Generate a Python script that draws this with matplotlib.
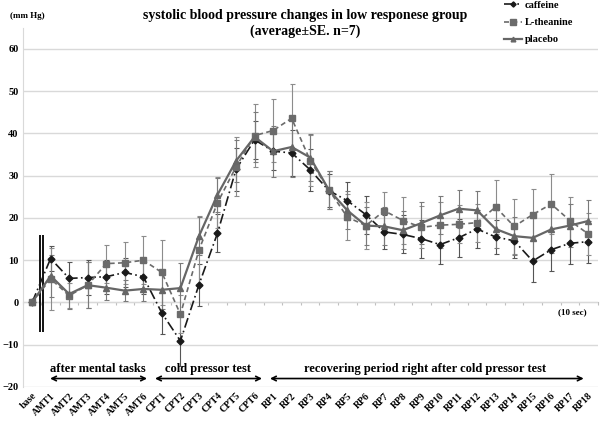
import numpy as np
import matplotlib.pyplot as plt

plt.rcParams['font.family'] = ['Liberation Serif', 'DejaVu Serif']
plt.rcParams['font.weight'] = 'bold'

categories = (['base'] + ['AMT%d' % i for i in range(1, 7)] +
              ['CPT%d' % i for i in range(1, 7)] +
              ['RP%d' % i for i in range(1, 19)])
series_names = ['caffeine', 'L-theanine', 'placebo']

caffeine = [0, 10.4, 5.7, 5.9, 6.1, 7.1, 6.1,
            -2.5, -9.1, 4.2, 16.4, 31.5, 38.5,
            35.8, 35.4, 31.4, 26.5, 24.1, 20.8, 16.7, 16.1, 15.1, 13.7,
            15.3, 17.4, 15.5, 14.6, 9.8, 12.5, 14.0, 14.4]
caffeine_se = [0, 3.0, 3.8, 4.2, 4.0, 3.5, 4.0,
               5.0, 6.0, 5.0, 4.5, 5.0, 4.5,
               4.5, 5.5, 5.0, 4.0, 4.5, 4.5, 4.0, 4.5, 4.5, 4.5,
               4.5, 4.5, 4.0, 4.0, 5.0, 5.0, 5.0, 5.0]

ltheanine = [0, 5.6, 1.6, 4.1, 9.2, 9.4, 10.0,
             7.1, -2.8, 12.4, 23.6, 32.1, 39.5,
             40.7, 43.6, 33.6, 26.7, 20.2, 18.2, 21.7, 19.4, 17.8, 18.3,
             18.5, 18.9, 22.6, 18.0, 20.8, 23.3, 19.4, 16.2]
ltheanine_se = [0, 7.4, 3.0, 5.5, 4.5, 5.0, 5.7,
                7.6, 4.5, 8.0, 6.0, 7.0, 7.5,
                7.5, 8.0, 6.0, 4.5, 5.5, 5.5, 4.5, 5.5, 5.0, 5.5,
                4.5, 4.5, 6.3, 6.5, 6.0, 7.0, 5.5, 5.0]

placebo = [0, 6.3, 2.0, 4.1, 3.5, 2.8, 3.2,
           3.0, 3.4, 15.7, 25.5, 33.5, 39.2,
           35.8, 36.8, 34.3, 26.7, 21.8, 18.2, 18.0, 17.1, 18.8, 20.6,
           22.2, 21.8, 17.4, 15.7, 15.3, 17.3, 18.2, 19.3]
placebo_se = [0, 5.0, 3.5, 5.5, 3.0, 2.5, 2.8,
              4.5, 6.0, 4.5, 4.0, 5.0, 6.0,
              6.0, 7.0, 5.5, 4.5, 4.5, 4.5, 4.5, 4.5, 5.0, 4.5,
              4.5, 4.5, 4.5, 4.5, 5.5, 5.5, 5.0, 5.0]

x = np.arange(len(categories))

fig = plt.figure(figsize=(6, 4.22), dpi=100)
ax = fig.add_axes([0.038, 0.083, 0.958, 0.851])

grid_c = '#d9d9d9'
ax.set_ylim(-20, 65)
ax.set_xlim(-0.5, len(categories) - 0.5)
ax.set_yticks(np.arange(-20, 61, 10))
ax.yaxis.grid(True, color=grid_c, lw=1)
ax.set_axisbelow(True)
for s in ['top', 'right', 'bottom']:
    ax.spines[s].set_visible(False)
ax.spines['left'].set_color(grid_c)
ax.tick_params(axis='y', length=0, labelsize=7.5, pad=3)
ax.tick_params(axis='x', length=0, pad=3)
ax.set_xticks(x)
ax.set_xticklabels(categories, rotation=45, ha='right',
                   rotation_mode='anchor', fontsize=7)

# category axis crossing at zero, ticks between categories
sec = ax.secondary_xaxis(20 / 85)
sec.set_xticks(np.arange(-0.5, len(categories), 1))
sec.set_xticklabels([])
sec.tick_params(length=2.5, color='#bfbfbf', direction='out')
sec.spines['bottom'].set_color('#bfbfbf')

ekw = dict(elinewidth=0.8, capsize=1.8, capthick=0.8)
c1 = ax.errorbar(x, caffeine, yerr=caffeine_se, color='#1a1a1a', ecolor='#555555',
                 ls=(0, (6, 2, 1, 2)), lw=1.2, marker='D', ms=3.5, **ekw)
c2 = ax.errorbar(x, ltheanine, yerr=ltheanine_se, color='#6b6b6b', ecolor='#8c8c8c',
                 ls=(0, (3, 2)), lw=1.2, marker='s', ms=5, **ekw)
c3 = ax.errorbar(x, placebo, yerr=placebo_se, color='#666666', ecolor='#7a7a7a',
                 ls='-', lw=1.6, marker='^', ms=4.5, **ekw)

# double bar between base and AMT1
ax.vlines([0.42, 0.58], -7, 16, color='black', lw=1.3)

# period annotations
arrow_kw = dict(arrowstyle='<->', color='black', lw=1.2,
                shrinkA=0, shrinkB=0, mutation_scale=8)
ax.annotate('', xy=(0.97, -18), xytext=(6.2, -18), arrowprops=arrow_kw)
ax.annotate('', xy=(6.63, -18), xytext=(12.4, -18), arrowprops=arrow_kw)
ax.annotate('', xy=(12.83, -18), xytext=(29.75, -18), arrowprops=arrow_kw)
ax.text(3.56, -15.8, 'after mental tasks', ha='center', va='center', fontsize=9)
ax.text(9.5, -15.8, 'cold pressor test', ha='center', va='center', fontsize=9)
ax.text(21.2, -15.8, 'recovering period right after cold pressor test',
        ha='center', va='center', fontsize=9)

ax.text(29.9, -2.3, '(10 sec)', ha='right', va='center', fontsize=6.5)
fig.text(0.017, 0.962, '(mm Hg)', ha='left', va='center', fontsize=6.5)

fig.text(0.508, 0.964, 'systolic blood pressure changes in low responese group',
         ha='center', va='center', fontsize=10)
fig.text(0.508, 0.925, '(average\u00b1SE. n=7)', ha='center', va='center',
         fontsize=10)

ax.legend([c1[0], c2[0], c3[0]], series_names,
          loc='upper left', bbox_to_anchor=(0.84, 0.998),
          bbox_transform=fig.transFigure, frameon=False, fontsize=7.5,
          handlelength=1.7, handletextpad=0.3, labelspacing=0.75,
          markerscale=0.75, borderaxespad=0, borderpad=0)

fig.savefig('out.png', dpi=100)
